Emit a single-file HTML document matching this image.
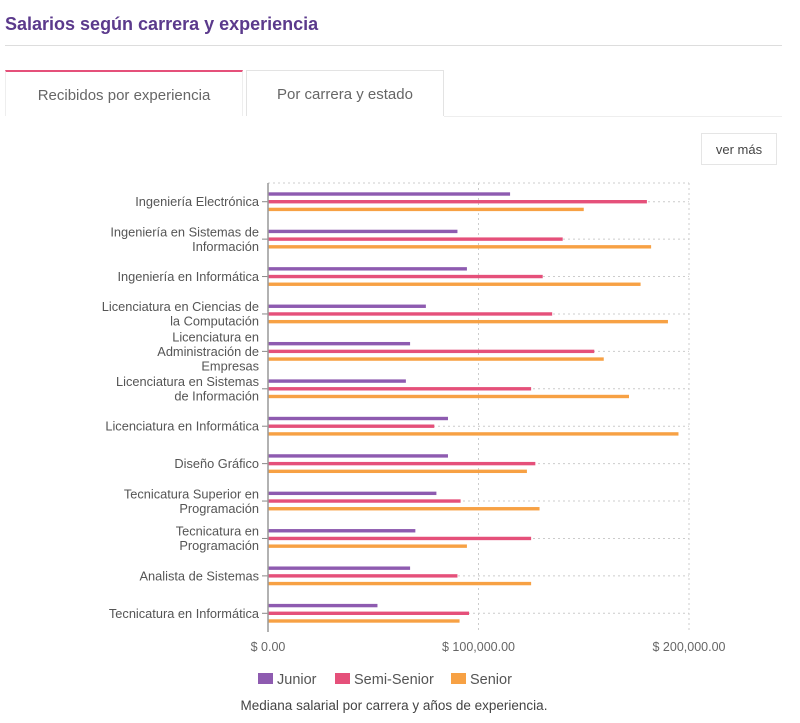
<!DOCTYPE html>
<html><head><meta charset="utf-8">
<style>
body{margin:0;width:800px;height:723px;background:#fff;font-family:"Liberation Sans",sans-serif;overflow:hidden;position:relative}
.title{position:absolute;left:5px;top:14px;font-size:18px;font-weight:bold;color:#5b3a8c}
.rule{position:absolute;left:5px;right:18px;top:45px;height:1px;background:#ddd}
.tab{position:absolute;top:70px;height:46px;box-sizing:border-box;font-size:15px;color:#666;text-align:center;line-height:48px}
.t1{left:5px;width:238px;border-top:2px solid #e5507a;border-left:1px solid #eee;border-right:1px solid #eee}
.t2{left:246px;width:198px;border:1px solid #e3e3e3;border-bottom:none}
.tabline{position:absolute;left:444px;right:18px;top:116px;height:1px;background:#eee}
.more{position:absolute;left:701px;top:133px;width:76px;height:32px;border:1px solid #e5e5e5;box-sizing:border-box;font-size:13px;color:#444;text-align:center;line-height:32px}
svg{position:absolute;left:0;top:0}
</style></head><body>
<div class="title">Salarios según carrera y experiencia</div>
<div class="rule"></div>
<div class="tab t1">Recibidos por experiencia</div>
<div class="tab t2">Por carrera y estado</div>
<div class="tabline"></div>
<div class="more">ver más</div>
<svg id="chart" width="800" height="723"></svg>
<script>
const categories=[["Ingeniería Electrónica"],["Ingeniería en Sistemas de","Información"],["Ingeniería en Informática"],["Licenciatura en Ciencias de","la Computación"],["Licenciatura en","Administración de","Empresas"],["Licenciatura en Sistemas","de Información"],["Licenciatura en Informática"],["Diseño Gráfico"],["Tecnicatura Superior en","Programación"],["Tecnicatura en","Programación"],["Analista de Sistemas"],["Tecnicatura en Informática"]];
const junior=[115000,90000,94500,75000,67500,65500,85500,85500,80000,70000,67500,52000];
const semiSenior=[180000,140000,130500,135000,155000,125000,79000,127000,91500,125000,90000,95500];
const senior=[150000,182000,177000,190000,159500,171500,195000,123000,129000,94500,125000,91000];
const xTicks=[0,100000,200000];
const xTickLabels=["$ 0.00","$ 100,000.00","$ 200,000.00"];
const seriesNames=["Junior","Semi-Senior","Senior"];
const colors=["#8e5bb0","#e5507a","#f7a144"];

const svg=document.getElementById('chart');const NS="http://www.w3.org/2000/svg";
const X0=268,X1=689,Y0=183,Y1=632;
const x=v=>X0+(v/200000)*(X1-X0);
const step=(Y1-Y0)/categories.length;
const y=i=>Y0+step*(i+0.5);
function mk(t,a){const e=document.createElementNS(NS,t);for(const k in a)e.setAttribute(k,a[k]);svg.appendChild(e);return e;}
let e;
e=mk('line',{x1:X0,x2:X1,y1:Y0,y2:Y0,stroke:'#ccc','stroke-dasharray':'2,3'});

xTicks.forEach((t,i)=>{
 e=mk('line',{x1:x(t),x2:x(t),y1:Y0,y2:Y1,stroke:'#ccc','stroke-dasharray':'2,3'});
 
 e=mk('text',{x:x(t),y:651,'text-anchor':'middle','font-size':12.5,fill:'#666'});e.textContent=xTickLabels[i];
 
});
categories.forEach((c,i)=>{
 const cy=y(i);
 e=mk('line',{x1:X0,x2:X1,y1:cy,y2:cy,stroke:'#ccc','stroke-dasharray':'2,3'});
 
 e=mk('line',{x1:X0-6,x2:X0,y1:cy,y2:cy,stroke:'#888'});
 
 const n=c.length,lh=14.5,start=cy-(n-1)*lh/2+4.5;
 c.forEach((ln,j)=>{e=mk('text',{x:259,y:start+j*lh,'text-anchor':'end','font-size':12.8,fill:'#555'});e.textContent=ln;
  });
 [junior,semiSenior,senior].forEach((s,k)=>{
  e=mk('rect',{x:X0,y:cy+(k-1)*7.7-1.7,width:x(s[i])-X0,height:3.4,fill:colors[k]});
  
 });
});
e=mk('line',{x1:X0,x2:X0,y1:Y0,y2:Y1,stroke:'#999','stroke-width':1.5});

const lx=[258,335,451];
seriesNames.forEach((n,k)=>{
 e=mk('rect',{x:lx[k],y:673,width:15,height:11,fill:colors[k]});
 
 e=mk('text',{x:lx[k]+19,y:684,'font-size':14.5,fill:'#555'});e.textContent=n;
 
});
e=mk('text',{x:394,y:710,'text-anchor':'middle','font-size':13.5,fill:'#444'});e.textContent="Mediana salarial por carrera y años de experiencia.";

</script>
</body></html>
